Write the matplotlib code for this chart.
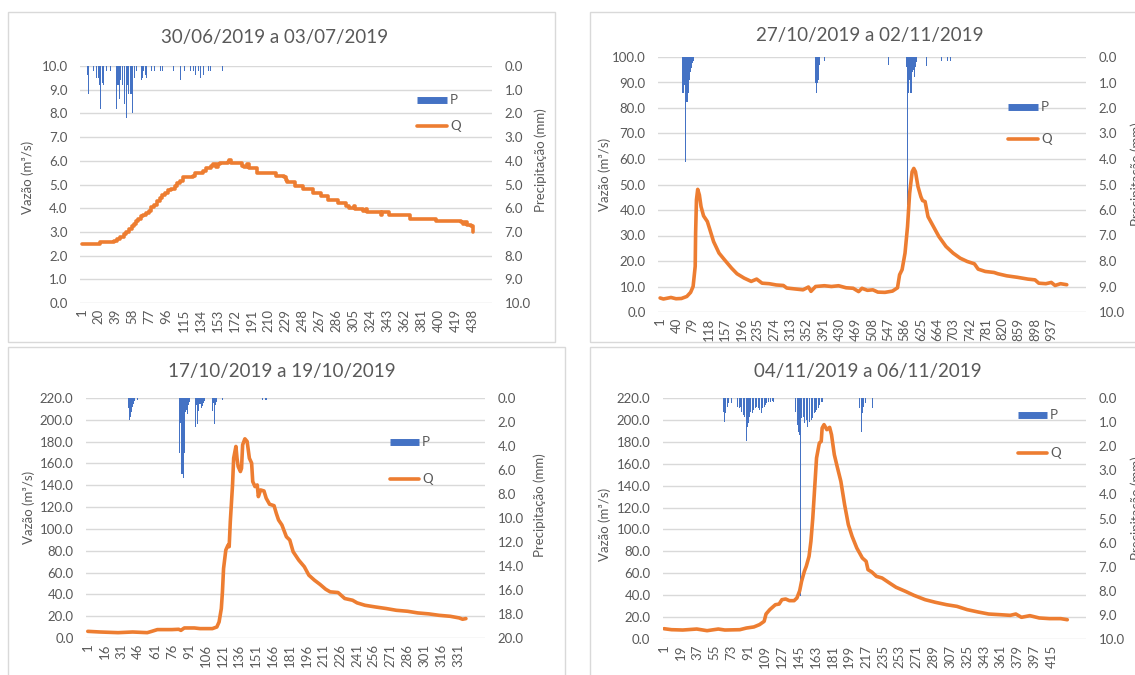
import numpy as np
import matplotlib
matplotlib.use("Agg")
import matplotlib.pyplot as plt
from matplotlib.patches import Rectangle
from matplotlib.lines import Line2D

plt.rcParams['font.family'] = ['Lato', 'DejaVu Sans']

W, H = 1135, 675
BLUE = '#4472C4'
ORANGE = '#ED7D31'
GRID = '#D9D9D9'
TXT = '#595959'

# ---- 30/06/2019 a 03/07/2019 ----
q1_idx = [1, 21, 37, 40, 44, 48, 51, 54, 57, 59, 62, 64, 67, 70, 73, 76, 79, 82, 85, 88,
          91, 94, 97, 101, 105, 108, 111, 114, 125, 128, 137, 140, 146, 148, 151, 153, 156,
          165, 166, 168, 180, 182, 186, 188, 197, 218, 227, 229, 231, 240, 249, 260, 269,
          277, 288, 297, 300, 306, 307, 316, 319, 320, 335, 336, 337, 345, 368, 397, 425,
          428, 430, 432, 437, 439]
q1_val = [2.47, 2.57, 2.62, 2.72, 2.8, 2.9, 3.0, 3.12, 3.25, 3.35, 3.45, 3.55, 3.65, 3.72,
          3.8, 3.9, 4.05, 4.15, 4.3, 4.42, 4.55, 4.65, 4.75, 4.8, 4.95, 5.05, 5.15, 5.3, 5.35,
          5.5, 5.55, 5.7, 5.8, 5.85, 5.75, 5.85, 5.9, 5.95, 6.05, 5.9, 5.8, 5.75, 5.85, 5.7,
          5.5, 5.35, 5.3, 5.2, 5.1, 4.95, 4.8, 4.65, 4.5, 4.35, 4.2, 4.1, 4.0, 4.1, 3.98, 3.9,
          3.97, 3.85, 3.85, 3.7, 3.85, 3.7, 3.55, 3.45, 3.42, 3.32, 3.42, 3.3, 3.25, 3.0]
p1_idx = [7, 9, 14, 17, 18, 20, 21, 22, 24, 25, 27, 29, 33, 37, 40, 41, 42, 43, 44, 46, 47,
          49, 51, 52, 53, 55, 56, 57, 58, 60, 62, 68, 69, 70, 72, 73, 79, 82, 89, 91, 93, 104,
          111, 116, 123, 126, 128, 132, 134, 137, 140, 143, 145, 158]
p1_mm = [0.4, 1.2, 0.2, 0.5, 0.6, 0.5, 0.8, 1.8, 0.7, 0.8, 0.4, 0.2, 0.2, 0.2, 1.8, 0.8,
         0.8, 1.4, 0.6, 0.3, 0.8, 1.6, 2.2, 0.8, 1.2, 1.6, 1.2, 1.2, 2.0, 0.5, 0.2, 0.6, 0.5,
         0.2, 0.4, 0.5, 0.2, 0.2, 0.2, 0.2, 0.2, 0.2, 0.6, 0.2, 0.2, 0.2, 0.4, 0.2, 0.5, 0.4,
         0.2, 0.2, 0.2, 0.2]

# ---- 27/10/2019 a 02/11/2019 ----
q2_idx = [1, 9, 27, 39, 52, 65, 74, 80, 85, 86, 88, 91, 95, 99, 105, 114, 119, 129, 142,
          155, 172, 185, 202, 219, 232, 245, 262, 279, 296, 304, 326, 343, 356, 362, 373,
          394, 411, 428, 446, 463, 476, 484, 497, 510, 522, 539, 557, 569, 574, 580, 587,
          593, 598, 604, 608, 612, 618, 625, 629, 635, 642, 655, 668, 685, 702, 719, 736,
          753, 762, 779, 800, 809, 830, 856, 881, 898, 907, 924, 937, 946, 959, 974]
q2_val = [5.5, 5.1, 5.7, 5.2, 5.3, 6.1, 7.7, 10.0, 17.9, 31.0, 44.0, 48.1, 45.9, 41.3, 37.7,
          35.5, 32.9, 27.6, 23.1, 20.5, 17.2, 15.0, 13.3, 12.0, 12.9, 11.3, 11.1, 10.6, 10.4,
          9.4, 9.0, 8.7, 9.8, 8.1, 10.0, 10.3, 10.0, 10.3, 9.5, 9.3, 8.0, 9.3, 8.5, 8.7, 7.8,
          7.7, 8.2, 9.5, 14.6, 16.6, 23.1, 33.5, 46.5, 55.0, 56.3, 55.0, 49.2, 45.2, 43.7,
          43.3, 37.4, 33.5, 29.6, 25.7, 23.1, 21.1, 19.8, 18.9, 16.8, 15.9, 15.5, 15.0, 14.2,
          13.6, 12.9, 12.6, 11.3, 11.1, 11.6, 10.4, 11.1, 10.7]
p2_idx = [55, 56, 57, 58, 59, 60, 61, 62, 63, 64, 65, 66, 67, 68, 69, 70, 71, 72, 73, 74,
          75, 76, 77, 78, 79, 80, 81, 82, 87, 92,
          373, 374, 375, 376, 377, 378, 379, 380, 381, 382, 383, 394, 420, 422, 424, 426,
          527, 535, 546, 547,
          578, 580, 584, 587, 590, 591, 592, 593, 594, 595, 596, 597, 598, 599, 600, 601,
          602, 603, 604, 605, 606, 607, 608, 609, 610, 611, 612, 613, 614, 615,
          638, 674, 689, 692, 696]
p2_mm = [1.4, 1.4, 1.4, 1.1, 1.1, 1.05, 1.1, 4.1, 1.05, 1.75, 1.75, 1.6, 1.75, 1.4, 1.4,
         1.4, 0.9, 0.8, 0.65, 0.6, 0.55, 0.45, 0.4, 0.3, 0.25, 0.2, 0.15, 0.15, 0.15, 0.15,
         1.0, 1.0, 1.4, 1.4, 1.4, 1.0, 1.0, 0.9, 0.5, 0.3, 0.15, 0.15, 0.35, 0.45, 0.2, 0.15,
         0.15, 0.15, 0.6, 0.3,
         4.4, 1.0, 0.6, 0.5, 0.6, 0.4, 0.6, 5.8, 1.4, 1.4, 1.4, 1.4, 0.9, 0.9, 1.4, 3.0,
         1.4, 1.4, 0.8, 0.6, 0.6, 0.5, 0.5, 0.8, 0.8, 0.6, 0.4, 0.3, 0.2, 0.2,
         0.35, 0.15, 0.15, 0.2, 0.15]

# ---- 17/10/2019 a 19/10/2019 ----
q3_idx = [1, 12, 28, 41, 54, 58, 63, 76, 82, 84, 87, 96, 101, 112, 116, 118, 120, 121, 122,
          124, 126, 127, 128, 130, 131, 133, 134, 135, 137, 138, 139, 141, 143, 145, 147,
          148, 150, 152, 153, 155, 158, 160, 163, 167, 169, 171, 174, 178, 181, 184, 189,
          194, 198, 203, 208, 213, 217, 224, 230, 237, 241, 248, 257, 267, 276, 286, 295,
          305, 314, 324, 332, 335, 338]
q3_val = [6.1, 5.5, 4.9, 5.5, 4.9, 6.1, 7.7, 7.7, 8.0, 7.0, 9.2, 9.2, 8.6, 8.6, 10.1, 14.7,
          27.0, 42.3, 63.7, 80.6, 85.2, 83.7, 106.6, 140.3, 164.8, 175.6, 164.8, 157.2,
          152.6, 155.6, 177.1, 182.6, 180.2, 164.8, 160.3, 143.4, 138.8, 140.3, 129.6,
          135.7, 134.8, 128.1, 122.6, 121.3, 114.3, 108.2, 103.6, 92.8, 89.8, 79.1, 71.4,
          65.3, 57.6, 53.0, 49.1, 44.7, 42.3, 41.7, 36.2, 34.6, 32.2, 30.0, 28.5, 27.0,
          25.4, 24.5, 23.0, 22.1, 20.8, 19.9, 18.4, 17.2, 17.8]
p3_idx = [37, 38, 39, 40, 41, 42, 43, 45,
          83, 84, 85, 86, 87, 88, 89, 90, 91, 92,
          97, 98, 99, 100, 101, 102, 103, 104, 105,
          112, 113, 114, 115, 116, 121,
          157, 159, 160]
p3_mm = [0.86, 1.84, 1.56, 1.14, 0.72, 0.53, 0.25, 0.17,
         4.6, 2.1, 6.3, 6.66, 4.6, 1.14, 1.0, 1.3, 0.6, 0.3,
         2.4, 0.6, 2.2, 1.1, 0.5, 0.86, 0.7, 0.45, 0.25,
         1.1, 0.45, 2.2, 0.6, 0.3, 0.17,
         0.17, 0.17, 0.17]

# ---- 04/11/2019 a 06/11/2019 ----
q4_idx = [1, 9, 21, 36, 47, 59, 66, 82, 89, 97, 103, 108, 110, 114, 120, 124, 127, 131,
          135, 140, 143, 146, 148, 151, 153, 156, 158, 160, 162, 164, 167, 169, 170, 172,
          175, 178, 180, 183, 186, 190, 194, 198, 202, 207, 213, 217, 219, 223, 228, 234,
          242, 249, 259, 268, 280, 291, 303, 314, 325, 337, 348, 360, 371, 377, 383, 392,
          402, 413, 425, 432]
q4_val = [9.4, 8.5, 8.2, 9.1, 7.6, 9.1, 8.2, 8.5, 10.0, 11.0, 13.1, 16.1, 22.8, 26.8,
          31.3, 31.9, 35.9, 36.5, 35.0, 35.0, 37.4, 44.1, 52.6, 61.8, 66.3, 75.5, 89.2,
          110.5, 137.8, 165.2, 178.9, 180.4, 192.6, 195.7, 191.1, 193.2, 186.5, 168.3,
          157.6, 143.9, 122.6, 104.4, 93.7, 83.1, 73.9, 70.9, 63.3, 61.2, 57.2, 55.7, 51.1,
          47.2, 43.5, 39.9, 35.9, 33.5, 31.3, 29.8, 26.8, 24.6, 22.8, 22.2, 21.6, 22.8,
          19.8, 21.3, 19.2, 18.6, 18.6, 17.6]
p4_idx = [64, 65, 66, 67, 69, 70, 73,
          79, 80, 82, 83, 84, 86, 87, 89, 90, 91, 92, 93, 95, 96, 97, 99, 100, 102, 103,
          105, 106, 108, 109, 111, 113, 115, 117, 118,
          142, 144, 145, 146, 147, 148, 150, 151, 153, 154, 156, 157, 159, 160, 162, 163,
          164, 166, 167, 169, 170,
          210, 212, 213, 214, 216, 224]
p4_mm = [0.3, 0.57, 1.0, 0.64, 0.36, 0.22, 0.2,
         0.22, 0.36, 0.43, 0.36, 0.57, 0.7, 0.78, 1.8, 1.2, 1.05, 0.78, 0.57, 0.43, 0.64,
         0.5, 0.43, 0.36, 0.43, 0.5, 0.64, 0.43, 0.36, 0.3, 0.22, 0.15, 0.15, 0.13, 0.15,
         0.57, 1.1, 1.4, 1.55, 8.2, 0.85, 0.78, 1.05, 0.9, 1.2, 0.99, 1.1, 0.9, 0.85, 0.64,
         0.57, 0.5, 0.43, 0.3, 0.15, 0.15,
         0.43, 1.4, 0.64, 0.36, 0.22, 0.43]


def fx(x):
    return x / W


def fy(y):
    return 1 - y / H


def frame(fig, x0, y0, x1, y1):
    fig.add_artist(Rectangle((fx(x0), fy(y1)), (x1 - x0) / W, (y1 - y0) / H,
                             transform=fig.transFigure, fill=False,
                             edgecolor=GRID, lw=1.0))


def legend(fig, x0, x1, yp, yq):
    fig.add_artist(Line2D([fx(x0), fx(x1)], [fy(yp), fy(yp)], transform=fig.transFigure,
                          color=BLUE, lw=5, solid_capstyle='butt'))
    fig.text(fx(x1 + 3), fy(yp), 'P', color=TXT, fontsize=9.5, va='center')
    fig.add_artist(Line2D([fx(x0), fx(x1)], [fy(yq), fy(yq)], transform=fig.transFigure,
                          color=ORANGE, lw=2.6, solid_capstyle='round'))
    fig.text(fx(x1 + 3), fy(yq), 'Q', color=TXT, fontsize=9.5, va='center')


def panel(fig, box, title, title_xy, q_idx, q_val, p_idx, p_mm, qmax, qstep, pmax, pstep,
          xticks, xlim, ylab_xy, ylab2_xy, steps=False):
    x0, y0, x1, y1 = box
    ax = fig.add_axes([fx(x0), fy(y1), (x1 - x0) / W, (y1 - y0) / H])
    ax.set_xlim(*xlim)
    ax.set_ylim(0, qmax)
    ax.set_yticks(np.arange(0, qmax + qstep / 2, qstep))
    ax.yaxis.set_major_formatter(plt.FormatStrFormatter('%.1f'))
    ax.set_xticks(xticks)
    ax.set_xticklabels([str(t) for t in xticks], rotation=90)
    ax.grid(axis='y', color=GRID, lw=1.0)
    ax.set_axisbelow(True)
    for s in ax.spines.values():
        s.set_visible(False)
    ax.tick_params(axis='both', length=0, colors=TXT, labelsize=9.5)
    ax.tick_params(axis='y', pad=9)
    ax.tick_params(axis='x', pad=4)

    ax2 = ax.twinx()
    ax2.set_ylim(pmax, 0)
    ax2.set_yticks(np.arange(0, pmax + pstep / 2, pstep))
    ax2.yaxis.set_major_formatter(plt.FormatStrFormatter('%.1f'))
    for s in ax2.spines.values():
        s.set_visible(False)
    ax2.tick_params(axis='y', length=0, colors=TXT, labelsize=9.5, pad=9)
    ax2.bar(p_idx, p_mm, width=1.0, color=BLUE, linewidth=0, zorder=1)

    # discharge line drawn in the primary axis units on top of the bars
    ax2.plot(q_idx, q_val, color=ORANGE, lw=2.6, transform=ax.transData, zorder=3,
             solid_joinstyle='round', solid_capstyle='round',
             drawstyle='steps-post' if steps else 'default')
    ax.set_xlim(*xlim)

    fig.text(fx(title_xy[0]), fy(title_xy[1]), title, ha='center', va='center',
             fontsize=13.5, color=TXT)
    fig.text(fx(ylab_xy[0]), fy(ylab_xy[1]), 'Vazão (m³/s)', rotation=90, ha='center',
             va='center', fontsize=9.5, color=TXT)
    fig.text(fx(ylab2_xy[0]), fy(ylab2_xy[1]), 'Precipitação (mm)', rotation=90,
             ha='center', va='center', fontsize=9.5, color=TXT)


fig = plt.figure(figsize=(W / 100, H / 100), dpi=100)
fig.patch.set_facecolor('white')

frame(fig, 8, 12, 555, 342)
frame(fig, 590, 12, 1140, 342)
frame(fig, 8, 347, 565, 680)
frame(fig, 590, 347, 1140, 680)

panel(fig, (80, 66, 492, 303), '30/06/2019 a 03/07/2019', (275, 38),
      q1_idx, q1_val, p1_idx, p1_mm, 10, 1, 10, 1,
      list(range(1, 439, 19)), (-1, 460), (28, 177), (541, 160), steps=True)
legend(fig, 417, 447, 100, 126)

panel(fig, (658, 57, 1086, 312), '27/10/2019 a 02/11/2019', (870, 35),
      q2_idx, q2_val, p2_idx, p2_mm, 100, 10, 10, 1,
      list(range(1, 938, 39)), (-4, 1020), (605, 174), (1137, 174))
legend(fig, 1008, 1038, 107, 139)

panel(fig, (86, 398, 485, 638), '17/10/2019 a 19/10/2019', (282, 372),
      q3_idx, q3_val, p3_idx, p3_mm, 220, 20, 20, 2,
      list(range(1, 332, 15)), (-0.6, 355), (29, 507), (540, 505))
legend(fig, 390, 419, 442, 479)

panel(fig, (663, 398, 1086, 639), '04/11/2019 a 06/11/2019', (868, 372),
      q4_idx, q4_val, p4_idx, p4_mm, 220, 20, 10, 1,
      list(range(1, 416, 18)), (-0.1, 452), (605, 524), (1137, 508))
legend(fig, 1018, 1047, 415, 453)

fig.savefig('out.png', dpi=100, facecolor='white')
